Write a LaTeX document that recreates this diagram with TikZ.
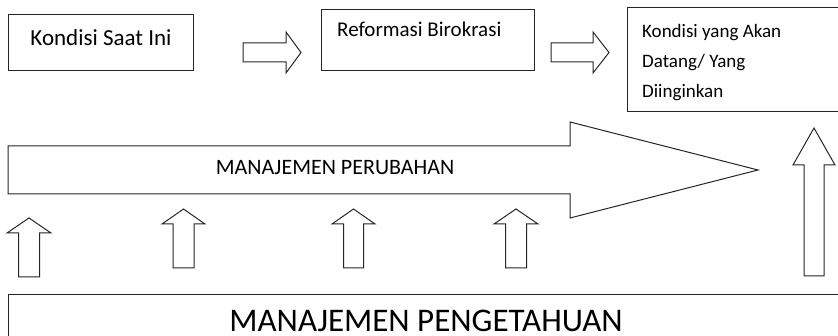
\documentclass[tikz,border=0pt]{standalone}
\usepackage{fontspec}
\setmainfont{Carlito}
\begin{document}
\begin{tikzpicture}[x=1pt,y=-1pt,
  box/.style={draw=black!85,line width=1pt,rectangle,inner sep=0pt},
  blk/.style={draw=black!85,line width=1pt,fill=white,line join=miter},
  txt/.style={inner sep=0pt,anchor=base west}]
\useasboundingbox (0,0) rectangle (838,336);
% block arrow pointing up: tip x, tip y, half head, half shaft, head base y, bottom y
\newcommand{\blockup}[6]{%
  \draw[blk] (#1,#2) -- (#1+#3,#5) -- (#1+#4,#5) -- (#1+#4,#6) -- (#1-#4,#6)
    -- (#1-#4,#5) -- (#1-#3,#5) -- cycle;}
% block arrow pointing right: left x, head x, tip x, centre y, half shaft, half head
\newcommand{\blockright}[6]{%
  \draw[blk] (#1,#4-#5) -- (#2,#4-#5) -- (#2,#4-#6) -- (#3,#4) -- (#2,#4+#6)
    -- (#2,#4+#5) -- (#1,#4+#5) -- cycle;}

% top row
\node[box,minimum width=185pt,minimum height=56pt] (kini) at (100.5,43) {};
\node[inner sep=0pt,anchor=base,font=\fontsize{23}{27}\selectfont] (kiniT) at (101,46) {Kondisi Saat Ini};
\blockright{243}{286}{301}{52.5}{9.5}{20.5}

\node[box,minimum width=213pt,minimum height=61pt] (rb) at (427.5,40.5) {};
\node[txt,font=\fontsize{21}{25}\selectfont] (rbT) at (337,37) {Reformasi Birokrasi};
\blockright{551}{593}{609}{52.5}{9.5}{20.5}

\node[box,minimum width=218pt,minimum height=104pt] (dtg) at (736,60) {};
\node[txt,font=\fontsize{19}{23}\selectfont] (d1) at (642,38) {Kondisi yang Akan};
\node[txt,font=\fontsize{19}{23}\selectfont] (d2) at (642,68) {Datang/ Yang};
\node[txt,font=\fontsize{19}{23}\selectfont] (d3) at (642,98) {Diinginkan};

% change management arrow
\blockright{8}{570}{758}{170}{24}{48}
\node[inner sep=0pt,font=\fontsize{22}{26}\selectfont] (mp) at (335,168) {MANAJEMEN PERUBAHAN};

% knowledge management base
\node[box,minimum width=837pt,minimum height=60pt] (mk) at (426.5,325) {};
\node[inner sep=0pt,anchor=base,font=\fontsize{33}{37}\selectfont] (mkT) at (426,332) {MANAJEMEN PENGETAHUAN};

% supporting arrows
\blockup{29}{218}{22}{10.5}{233}{277}
\blockup{183.5}{209}{21.5}{10.5}{224}{268}
\blockup{353.5}{209}{21.5}{10}{224}{268}
\blockup{516}{209}{22}{10.5}{224}{268}
\blockup{814}{128}{21}{10}{165}{276}
\end{tikzpicture}
\end{document}
